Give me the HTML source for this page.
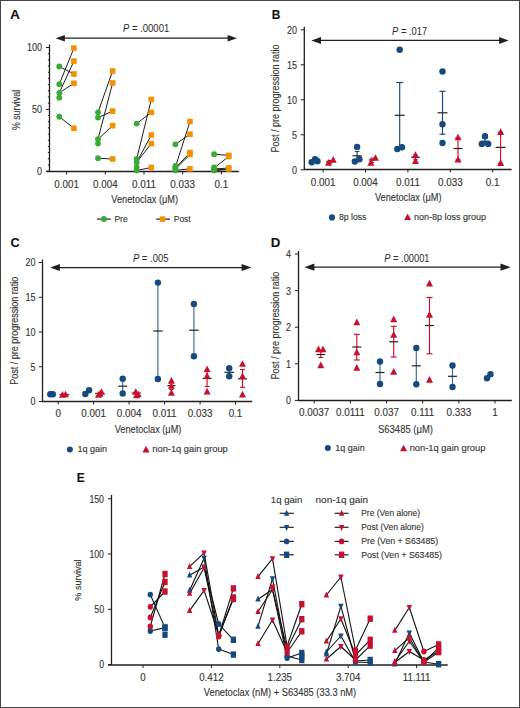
<!DOCTYPE html>
<html><head><meta charset="utf-8"><style>
html,body{margin:0;padding:0;background:#fff;}
svg{display:block;font-family:"Liberation Sans", sans-serif;}
text{stroke:#333;stroke-width:0.12px;}
</style></head><body>
<svg width="520" height="708" viewBox="0 0 520 708">
<rect x="0" y="0" width="520" height="708" fill="#fff"/>
<text x="10.10" y="18.70" font-size="13.2" text-anchor="start" fill="#111" font-weight="bold" textLength="10.0" lengthAdjust="spacingAndGlyphs">A</text>
<text x="123.00" y="32.10" font-size="11" fill="#2a2a2a" style="stroke:none" textLength="46.20" lengthAdjust="spacingAndGlyphs"><tspan font-style="italic">P</tspan> = .00001</text>
<line x1="63.02" y1="38.20" x2="229.48" y2="38.20" stroke="#231f20" stroke-width="1.3"/>
<polygon points="55.50,38.20 64.90,34.90 64.90,41.50" fill="#231f20"/>
<polygon points="237.00,38.20 227.60,34.90 227.60,41.50" fill="#231f20"/>
<line x1="49.50" y1="44.50" x2="49.50" y2="171.80" stroke="#231f20" stroke-width="1.3"/>
<line x1="45.90" y1="171.20" x2="49.50" y2="171.20" stroke="#231f20" stroke-width="1.0"/>
<text x="42.10" y="175.10" font-size="10.5" text-anchor="end" fill="#333333" textLength="5.02" lengthAdjust="spacingAndGlyphs">0</text>
<line x1="45.90" y1="109.35" x2="49.50" y2="109.35" stroke="#231f20" stroke-width="1.0"/>
<text x="42.10" y="113.25" font-size="10.5" text-anchor="end" fill="#333333" textLength="10.04" lengthAdjust="spacingAndGlyphs">50</text>
<line x1="45.90" y1="47.50" x2="49.50" y2="47.50" stroke="#231f20" stroke-width="1.0"/>
<text x="42.10" y="51.40" font-size="10.5" text-anchor="end" fill="#333333" textLength="15.06" lengthAdjust="spacingAndGlyphs">100</text>
<line x1="47.90" y1="165.01" x2="49.50" y2="165.01" stroke="#231f20" stroke-width="1.0"/>
<line x1="47.90" y1="158.83" x2="49.50" y2="158.83" stroke="#231f20" stroke-width="1.0"/>
<line x1="47.90" y1="152.64" x2="49.50" y2="152.64" stroke="#231f20" stroke-width="1.0"/>
<line x1="47.90" y1="146.46" x2="49.50" y2="146.46" stroke="#231f20" stroke-width="1.0"/>
<line x1="47.90" y1="140.27" x2="49.50" y2="140.27" stroke="#231f20" stroke-width="1.0"/>
<line x1="47.90" y1="134.09" x2="49.50" y2="134.09" stroke="#231f20" stroke-width="1.0"/>
<line x1="47.90" y1="127.90" x2="49.50" y2="127.90" stroke="#231f20" stroke-width="1.0"/>
<line x1="47.90" y1="121.72" x2="49.50" y2="121.72" stroke="#231f20" stroke-width="1.0"/>
<line x1="47.90" y1="115.53" x2="49.50" y2="115.53" stroke="#231f20" stroke-width="1.0"/>
<line x1="47.90" y1="103.16" x2="49.50" y2="103.16" stroke="#231f20" stroke-width="1.0"/>
<line x1="47.90" y1="96.98" x2="49.50" y2="96.98" stroke="#231f20" stroke-width="1.0"/>
<line x1="47.90" y1="90.79" x2="49.50" y2="90.79" stroke="#231f20" stroke-width="1.0"/>
<line x1="47.90" y1="84.61" x2="49.50" y2="84.61" stroke="#231f20" stroke-width="1.0"/>
<line x1="47.90" y1="78.42" x2="49.50" y2="78.42" stroke="#231f20" stroke-width="1.0"/>
<line x1="47.90" y1="72.24" x2="49.50" y2="72.24" stroke="#231f20" stroke-width="1.0"/>
<line x1="47.90" y1="66.05" x2="49.50" y2="66.05" stroke="#231f20" stroke-width="1.0"/>
<line x1="47.90" y1="59.87" x2="49.50" y2="59.87" stroke="#231f20" stroke-width="1.0"/>
<line x1="47.90" y1="53.68" x2="49.50" y2="53.68" stroke="#231f20" stroke-width="1.0"/>
<line x1="46.50" y1="171.50" x2="238.80" y2="171.50" stroke="#231f20" stroke-width="1.3"/>
<line x1="66.60" y1="171.50" x2="66.60" y2="174.50" stroke="#231f20" stroke-width="1.0"/>
<text x="66.60" y="187.60" font-size="10.5" text-anchor="middle" fill="#333333" textLength="24.7" lengthAdjust="spacingAndGlyphs">0.001</text>
<line x1="105.30" y1="171.50" x2="105.30" y2="174.50" stroke="#231f20" stroke-width="1.0"/>
<text x="105.30" y="187.60" font-size="10.5" text-anchor="middle" fill="#333333" textLength="24.7" lengthAdjust="spacingAndGlyphs">0.004</text>
<line x1="144.00" y1="171.50" x2="144.00" y2="174.50" stroke="#231f20" stroke-width="1.0"/>
<text x="144.00" y="187.60" font-size="10.5" text-anchor="middle" fill="#333333" textLength="23.96" lengthAdjust="spacingAndGlyphs">0.011</text>
<line x1="182.70" y1="171.50" x2="182.70" y2="174.50" stroke="#231f20" stroke-width="1.0"/>
<text x="182.70" y="187.60" font-size="10.5" text-anchor="middle" fill="#333333" textLength="24.7" lengthAdjust="spacingAndGlyphs">0.033</text>
<line x1="221.40" y1="171.50" x2="221.40" y2="174.50" stroke="#231f20" stroke-width="1.0"/>
<text x="221.40" y="187.60" font-size="10.5" text-anchor="middle" fill="#333333" textLength="13.72" lengthAdjust="spacingAndGlyphs">0.1</text>
<text x="111.30" y="203.00" font-size="11" text-anchor="start" fill="#333333" textLength="66.8" lengthAdjust="spacingAndGlyphs">Venetoclax (μM)</text>
<text x="20.40" y="110.00" font-size="11" text-anchor="middle" fill="#333333" textLength="40.2" lengthAdjust="spacingAndGlyphs" transform="rotate(-90 20.40 110.00)">% survival</text>
<line x1="59.30" y1="66.50" x2="73.90" y2="74.00" stroke="#231f20" stroke-width="1.0"/>
<line x1="59.30" y1="84.20" x2="73.90" y2="48.10" stroke="#231f20" stroke-width="1.0"/>
<line x1="59.30" y1="92.80" x2="73.90" y2="61.10" stroke="#231f20" stroke-width="1.0"/>
<line x1="59.30" y1="92.80" x2="73.90" y2="83.30" stroke="#231f20" stroke-width="1.0"/>
<line x1="59.30" y1="116.75" x2="73.90" y2="128.25" stroke="#231f20" stroke-width="1.0"/>
<circle cx="59.30" cy="66.50" r="2.9" fill="#3aa935"/>
<circle cx="59.30" cy="84.20" r="2.9" fill="#3aa935"/>
<circle cx="59.30" cy="92.80" r="2.9" fill="#3aa935"/>
<circle cx="59.30" cy="97.70" r="2.9" fill="#3aa935"/>
<circle cx="59.30" cy="116.75" r="2.9" fill="#3aa935"/>
<rect x="71.10" y="45.30" width="5.6" height="5.6" fill="#f39200"/>
<rect x="71.10" y="58.30" width="5.6" height="5.6" fill="#f39200"/>
<rect x="71.10" y="71.20" width="5.6" height="5.6" fill="#f39200"/>
<rect x="71.10" y="80.50" width="5.6" height="5.6" fill="#f39200"/>
<rect x="71.10" y="125.45" width="5.6" height="5.6" fill="#f39200"/>
<line x1="98.00" y1="112.30" x2="112.60" y2="71.00" stroke="#231f20" stroke-width="1.0"/>
<line x1="98.00" y1="117.60" x2="112.60" y2="111.10" stroke="#231f20" stroke-width="1.0"/>
<line x1="98.00" y1="139.20" x2="112.60" y2="83.00" stroke="#231f20" stroke-width="1.0"/>
<line x1="98.00" y1="139.20" x2="112.60" y2="125.70" stroke="#231f20" stroke-width="1.0"/>
<line x1="98.00" y1="158.20" x2="112.60" y2="159.00" stroke="#231f20" stroke-width="1.0"/>
<circle cx="98.00" cy="112.30" r="2.9" fill="#3aa935"/>
<circle cx="98.00" cy="117.60" r="2.9" fill="#3aa935"/>
<circle cx="98.00" cy="139.20" r="2.9" fill="#3aa935"/>
<circle cx="98.00" cy="143.60" r="2.9" fill="#3aa935"/>
<circle cx="98.00" cy="158.20" r="2.9" fill="#3aa935"/>
<rect x="109.80" y="68.20" width="5.6" height="5.6" fill="#f39200"/>
<rect x="109.80" y="80.20" width="5.6" height="5.6" fill="#f39200"/>
<rect x="109.80" y="108.30" width="5.6" height="5.6" fill="#f39200"/>
<rect x="109.80" y="122.90" width="5.6" height="5.6" fill="#f39200"/>
<rect x="109.80" y="156.20" width="5.6" height="5.6" fill="#f39200"/>
<line x1="136.70" y1="123.60" x2="151.30" y2="112.40" stroke="#231f20" stroke-width="1.0"/>
<line x1="136.70" y1="159.00" x2="151.30" y2="99.40" stroke="#231f20" stroke-width="1.0"/>
<line x1="136.70" y1="162.30" x2="151.30" y2="135.00" stroke="#231f20" stroke-width="1.0"/>
<line x1="136.70" y1="162.30" x2="151.30" y2="143.60" stroke="#231f20" stroke-width="1.0"/>
<line x1="136.70" y1="170.40" x2="151.30" y2="167.50" stroke="#231f20" stroke-width="1.0"/>
<circle cx="136.70" cy="123.60" r="2.9" fill="#3aa935"/>
<circle cx="136.70" cy="159.00" r="2.9" fill="#3aa935"/>
<circle cx="136.70" cy="162.30" r="2.9" fill="#3aa935"/>
<circle cx="136.70" cy="167.10" r="2.9" fill="#3aa935"/>
<circle cx="136.70" cy="170.40" r="2.9" fill="#3aa935"/>
<rect x="148.50" y="96.60" width="5.6" height="5.6" fill="#f39200"/>
<rect x="148.50" y="109.60" width="5.6" height="5.6" fill="#f39200"/>
<rect x="148.50" y="132.20" width="5.6" height="5.6" fill="#f39200"/>
<rect x="148.50" y="140.80" width="5.6" height="5.6" fill="#f39200"/>
<rect x="148.50" y="164.70" width="5.6" height="5.6" fill="#f39200"/>
<line x1="175.40" y1="144.30" x2="190.00" y2="134.20" stroke="#231f20" stroke-width="1.0"/>
<line x1="175.40" y1="167.00" x2="190.00" y2="121.50" stroke="#231f20" stroke-width="1.0"/>
<line x1="175.40" y1="168.00" x2="190.00" y2="152.60" stroke="#231f20" stroke-width="1.0"/>
<line x1="175.40" y1="169.00" x2="190.00" y2="154.50" stroke="#231f20" stroke-width="1.0"/>
<line x1="175.40" y1="170.40" x2="190.00" y2="168.80" stroke="#231f20" stroke-width="1.0"/>
<circle cx="175.40" cy="144.30" r="2.9" fill="#3aa935"/>
<circle cx="175.40" cy="166.00" r="2.9" fill="#3aa935"/>
<circle cx="175.40" cy="167.50" r="2.9" fill="#3aa935"/>
<circle cx="175.40" cy="169.00" r="2.9" fill="#3aa935"/>
<circle cx="175.40" cy="170.40" r="2.9" fill="#3aa935"/>
<rect x="187.20" y="118.70" width="5.6" height="5.6" fill="#f39200"/>
<rect x="187.20" y="131.40" width="5.6" height="5.6" fill="#f39200"/>
<rect x="187.20" y="149.80" width="5.6" height="5.6" fill="#f39200"/>
<rect x="187.20" y="151.70" width="5.6" height="5.6" fill="#f39200"/>
<rect x="187.20" y="166.00" width="5.6" height="5.6" fill="#f39200"/>
<line x1="214.10" y1="154.20" x2="228.70" y2="155.40" stroke="#231f20" stroke-width="1.0"/>
<line x1="214.10" y1="168.00" x2="228.70" y2="156.50" stroke="#231f20" stroke-width="1.0"/>
<line x1="214.10" y1="169.00" x2="228.70" y2="168.00" stroke="#231f20" stroke-width="1.0"/>
<line x1="214.10" y1="170.00" x2="228.70" y2="169.00" stroke="#231f20" stroke-width="1.0"/>
<line x1="214.10" y1="170.40" x2="228.70" y2="169.50" stroke="#231f20" stroke-width="1.0"/>
<circle cx="214.10" cy="154.20" r="2.9" fill="#3aa935"/>
<circle cx="214.10" cy="167.40" r="2.9" fill="#3aa935"/>
<circle cx="214.10" cy="168.50" r="2.9" fill="#3aa935"/>
<circle cx="214.10" cy="169.50" r="2.9" fill="#3aa935"/>
<circle cx="214.10" cy="170.40" r="2.9" fill="#3aa935"/>
<rect x="225.90" y="152.60" width="5.6" height="5.6" fill="#f39200"/>
<rect x="225.90" y="153.70" width="5.6" height="5.6" fill="#f39200"/>
<rect x="225.90" y="165.20" width="5.6" height="5.6" fill="#f39200"/>
<rect x="225.90" y="166.20" width="5.6" height="5.6" fill="#f39200"/>
<line x1="97.00" y1="219.10" x2="110.80" y2="219.10" stroke="#222" stroke-width="1.2"/>
<circle cx="103.90" cy="219.10" r="3.0" fill="#3aa935"/>
<text x="114.40" y="222.10" font-size="9" text-anchor="start" fill="#333333" textLength="13.3" lengthAdjust="spacingAndGlyphs">Pre</text>
<line x1="156.20" y1="219.10" x2="170.00" y2="219.10" stroke="#222" stroke-width="1.2"/>
<rect x="159.70" y="216.30" width="5.6" height="5.6" fill="#f39200"/>
<text x="173.80" y="222.10" font-size="9" text-anchor="start" fill="#333333" textLength="16.8" lengthAdjust="spacingAndGlyphs">Post</text>
<text x="271.70" y="18.70" font-size="13.2" text-anchor="start" fill="#111" font-weight="bold" textLength="8.6" lengthAdjust="spacingAndGlyphs">B</text>
<text x="392.10" y="34.80" font-size="11" fill="#2a2a2a" style="stroke:none" textLength="35.00" lengthAdjust="spacingAndGlyphs"><tspan font-style="italic">P</tspan> = .017</text>
<line x1="319.08" y1="40.40" x2="501.02" y2="40.40" stroke="#231f20" stroke-width="1.3"/>
<polygon points="311.40,40.40 321.00,36.90 321.00,43.90" fill="#231f20"/>
<polygon points="508.70,40.40 499.10,36.90 499.10,43.90" fill="#231f20"/>
<line x1="304.30" y1="26.80" x2="304.30" y2="170.10" stroke="#231f20" stroke-width="1.3"/>
<line x1="300.70" y1="169.80" x2="304.30" y2="169.80" stroke="#231f20" stroke-width="1.0"/>
<text x="297.00" y="173.70" font-size="10.5" text-anchor="end" fill="#333333" textLength="5.02" lengthAdjust="spacingAndGlyphs">0</text>
<line x1="300.70" y1="134.80" x2="304.30" y2="134.80" stroke="#231f20" stroke-width="1.0"/>
<text x="297.00" y="138.70" font-size="10.5" text-anchor="end" fill="#333333" textLength="5.02" lengthAdjust="spacingAndGlyphs">5</text>
<line x1="300.70" y1="99.80" x2="304.30" y2="99.80" stroke="#231f20" stroke-width="1.0"/>
<text x="297.00" y="103.70" font-size="10.5" text-anchor="end" fill="#333333" textLength="10.04" lengthAdjust="spacingAndGlyphs">10</text>
<line x1="300.70" y1="64.80" x2="304.30" y2="64.80" stroke="#231f20" stroke-width="1.0"/>
<text x="297.00" y="68.70" font-size="10.5" text-anchor="end" fill="#333333" textLength="10.04" lengthAdjust="spacingAndGlyphs">15</text>
<line x1="300.70" y1="29.80" x2="304.30" y2="29.80" stroke="#231f20" stroke-width="1.0"/>
<text x="297.00" y="33.70" font-size="10.5" text-anchor="end" fill="#333333" textLength="10.04" lengthAdjust="spacingAndGlyphs">20</text>
<line x1="304.00" y1="169.50" x2="511.60" y2="169.50" stroke="#231f20" stroke-width="1.3"/>
<line x1="323.10" y1="169.50" x2="323.10" y2="172.50" stroke="#231f20" stroke-width="1.0"/>
<text x="323.10" y="186.40" font-size="10.5" text-anchor="middle" fill="#333333" textLength="24.7" lengthAdjust="spacingAndGlyphs">0.001</text>
<line x1="365.50" y1="169.50" x2="365.50" y2="172.50" stroke="#231f20" stroke-width="1.0"/>
<text x="365.50" y="186.40" font-size="10.5" text-anchor="middle" fill="#333333" textLength="24.7" lengthAdjust="spacingAndGlyphs">0.004</text>
<line x1="407.90" y1="169.50" x2="407.90" y2="172.50" stroke="#231f20" stroke-width="1.0"/>
<text x="407.90" y="186.40" font-size="10.5" text-anchor="middle" fill="#333333" textLength="23.96" lengthAdjust="spacingAndGlyphs">0.011</text>
<line x1="450.30" y1="169.50" x2="450.30" y2="172.50" stroke="#231f20" stroke-width="1.0"/>
<text x="450.30" y="186.40" font-size="10.5" text-anchor="middle" fill="#333333" textLength="24.7" lengthAdjust="spacingAndGlyphs">0.033</text>
<line x1="492.70" y1="169.50" x2="492.70" y2="172.50" stroke="#231f20" stroke-width="1.0"/>
<text x="492.70" y="186.40" font-size="10.5" text-anchor="middle" fill="#333333" textLength="13.72" lengthAdjust="spacingAndGlyphs">0.1</text>
<text x="374.90" y="200.70" font-size="11" text-anchor="start" fill="#333333" textLength="66.7" lengthAdjust="spacingAndGlyphs">Venetoclax (μM)</text>
<text x="279.40" y="98.50" font-size="10.5" text-anchor="middle" fill="#333333" textLength="107.8" lengthAdjust="spacingAndGlyphs" transform="rotate(-90 279.40 98.50)">Post / pre progression ratio</text>
<line x1="315.50" y1="160.00" x2="315.50" y2="162.00" stroke="#1f4470" stroke-width="1.15"/>
<line x1="313.00" y1="160.00" x2="318.00" y2="160.00" stroke="#1f4470" stroke-width="1.15"/>
<line x1="313.00" y1="162.00" x2="318.00" y2="162.00" stroke="#1f4470" stroke-width="1.15"/>
<line x1="311.00" y1="161.00" x2="320.00" y2="161.00" stroke="#222" stroke-width="1.2"/>
<circle cx="311.70" cy="162.30" r="3.2" fill="#15497f"/>
<circle cx="315.10" cy="159.20" r="3.2" fill="#15497f"/>
<circle cx="317.50" cy="161.20" r="3.2" fill="#15497f"/>
<line x1="329.50" y1="160.50" x2="329.50" y2="163.50" stroke="#c8102e" stroke-width="1.15"/>
<line x1="327.50" y1="160.50" x2="331.50" y2="160.50" stroke="#c8102e" stroke-width="1.15"/>
<line x1="327.50" y1="163.50" x2="331.50" y2="163.50" stroke="#c8102e" stroke-width="1.15"/>
<line x1="326.00" y1="162.00" x2="333.00" y2="162.00" stroke="#222" stroke-width="1.2"/>
<polygon points="328.60,159.04 325.10,165.64 332.10,165.64" fill="#c8102e"/>
<polygon points="333.20,156.04 329.70,162.64 336.70,162.64" fill="#c8102e"/>
<line x1="357.10" y1="151.50" x2="357.10" y2="160.00" stroke="#1f4470" stroke-width="1.15"/>
<line x1="354.80" y1="151.50" x2="359.40" y2="151.50" stroke="#1f4470" stroke-width="1.15"/>
<line x1="354.80" y1="160.00" x2="359.40" y2="160.00" stroke="#1f4470" stroke-width="1.15"/>
<line x1="352.50" y1="155.80" x2="361.70" y2="155.80" stroke="#222" stroke-width="1.2"/>
<circle cx="357.10" cy="146.90" r="3.2" fill="#15497f"/>
<circle cx="354.80" cy="161.50" r="3.2" fill="#15497f"/>
<circle cx="359.40" cy="159.20" r="3.2" fill="#15497f"/>
<line x1="372.00" y1="158.20" x2="372.00" y2="162.50" stroke="#c8102e" stroke-width="1.15"/>
<line x1="370.00" y1="158.20" x2="374.00" y2="158.20" stroke="#c8102e" stroke-width="1.15"/>
<line x1="370.00" y1="162.50" x2="374.00" y2="162.50" stroke="#c8102e" stroke-width="1.15"/>
<line x1="368.75" y1="160.00" x2="375.25" y2="160.00" stroke="#222" stroke-width="1.2"/>
<polygon points="370.90,159.04 367.40,165.64 374.40,165.64" fill="#c8102e"/>
<polygon points="375.50,154.24 372.00,160.84 379.00,160.84" fill="#c8102e"/>
<line x1="399.70" y1="82.50" x2="399.70" y2="147.50" stroke="#1f4470" stroke-width="1.15"/>
<line x1="396.20" y1="82.50" x2="403.20" y2="82.50" stroke="#1f4470" stroke-width="1.15"/>
<line x1="396.20" y1="147.50" x2="403.20" y2="147.50" stroke="#1f4470" stroke-width="1.15"/>
<line x1="394.70" y1="115.30" x2="404.70" y2="115.30" stroke="#222" stroke-width="1.2"/>
<circle cx="397.30" cy="149.00" r="3.2" fill="#15497f"/>
<circle cx="402.00" cy="147.30" r="3.2" fill="#15497f"/>
<circle cx="399.70" cy="49.80" r="3.2" fill="#15497f"/>
<line x1="415.50" y1="155.50" x2="415.50" y2="159.50" stroke="#c8102e" stroke-width="1.15"/>
<line x1="413.50" y1="155.50" x2="417.50" y2="155.50" stroke="#c8102e" stroke-width="1.15"/>
<line x1="413.50" y1="159.50" x2="417.50" y2="159.50" stroke="#c8102e" stroke-width="1.15"/>
<line x1="411.20" y1="157.30" x2="419.80" y2="157.30" stroke="#222" stroke-width="1.2"/>
<polygon points="415.50,151.24 412.00,157.84 419.00,157.84" fill="#c8102e"/>
<polygon points="415.50,157.44 412.00,164.04 419.00,164.04" fill="#c8102e"/>
<line x1="442.50" y1="91.30" x2="442.50" y2="134.20" stroke="#1f4470" stroke-width="1.15"/>
<line x1="439.50" y1="91.30" x2="445.50" y2="91.30" stroke="#1f4470" stroke-width="1.15"/>
<line x1="439.50" y1="134.20" x2="445.50" y2="134.20" stroke="#1f4470" stroke-width="1.15"/>
<line x1="437.50" y1="112.80" x2="447.50" y2="112.80" stroke="#222" stroke-width="1.2"/>
<circle cx="442.50" cy="71.50" r="3.2" fill="#15497f"/>
<circle cx="442.50" cy="124.20" r="3.2" fill="#15497f"/>
<circle cx="442.50" cy="143.00" r="3.2" fill="#15497f"/>
<line x1="458.00" y1="137.70" x2="458.00" y2="159.80" stroke="#c8102e" stroke-width="1.15"/>
<line x1="455.50" y1="137.70" x2="460.50" y2="137.70" stroke="#c8102e" stroke-width="1.15"/>
<line x1="455.50" y1="159.80" x2="460.50" y2="159.80" stroke="#c8102e" stroke-width="1.15"/>
<line x1="453.50" y1="148.50" x2="462.50" y2="148.50" stroke="#222" stroke-width="1.2"/>
<polygon points="458.00,133.74 454.50,140.34 461.50,140.34" fill="#c8102e"/>
<polygon points="458.00,155.84 454.50,162.44 461.50,162.44" fill="#c8102e"/>
<line x1="485.00" y1="138.50" x2="485.00" y2="144.00" stroke="#1f4470" stroke-width="1.15"/>
<line x1="482.50" y1="138.50" x2="487.50" y2="138.50" stroke="#1f4470" stroke-width="1.15"/>
<line x1="482.50" y1="144.00" x2="487.50" y2="144.00" stroke="#1f4470" stroke-width="1.15"/>
<line x1="480.50" y1="141.30" x2="489.50" y2="141.30" stroke="#222" stroke-width="1.2"/>
<circle cx="485.00" cy="136.30" r="3.2" fill="#15497f"/>
<circle cx="481.80" cy="143.90" r="3.2" fill="#15497f"/>
<circle cx="488.20" cy="143.90" r="3.2" fill="#15497f"/>
<line x1="500.60" y1="132.30" x2="500.60" y2="163.30" stroke="#c8102e" stroke-width="1.15"/>
<line x1="498.10" y1="132.30" x2="503.10" y2="132.30" stroke="#c8102e" stroke-width="1.15"/>
<line x1="498.10" y1="163.30" x2="503.10" y2="163.30" stroke="#c8102e" stroke-width="1.15"/>
<line x1="495.60" y1="147.40" x2="505.60" y2="147.40" stroke="#222" stroke-width="1.2"/>
<polygon points="500.60,128.34 497.10,134.94 504.10,134.94" fill="#c8102e"/>
<polygon points="500.60,159.34 497.10,165.94 504.10,165.94" fill="#c8102e"/>
<circle cx="332.00" cy="217.40" r="3.1" fill="#15497f"/>
<text x="339.00" y="220.40" font-size="9" text-anchor="start" fill="#333333" textLength="27.4" lengthAdjust="spacingAndGlyphs">8p loss</text>
<polygon points="407.60,213.44 404.10,220.04 411.10,220.04" fill="#c8102e"/>
<text x="414.10" y="220.40" font-size="9" text-anchor="start" fill="#333333" textLength="71.9" lengthAdjust="spacingAndGlyphs">non-8p loss group</text>
<text x="10.50" y="247.30" font-size="13.4" text-anchor="start" fill="#111" font-weight="bold" textLength="9.2" lengthAdjust="spacingAndGlyphs">C</text>
<text x="132.90" y="262.00" font-size="11" fill="#2a2a2a" style="stroke:none" textLength="35.60" lengthAdjust="spacingAndGlyphs"><tspan font-style="italic">P</tspan> = .005</text>
<line x1="57.94" y1="267.60" x2="243.56" y2="267.60" stroke="#231f20" stroke-width="1.3"/>
<polygon points="50.10,267.60 59.90,264.10 59.90,271.10" fill="#231f20"/>
<polygon points="251.40,267.60 241.60,264.10 241.60,271.10" fill="#231f20"/>
<line x1="42.50" y1="259.50" x2="42.50" y2="402.10" stroke="#231f20" stroke-width="1.3"/>
<line x1="38.90" y1="401.50" x2="42.50" y2="401.50" stroke="#231f20" stroke-width="1.0"/>
<text x="35.50" y="405.40" font-size="10.5" text-anchor="end" fill="#333333" textLength="5.02" lengthAdjust="spacingAndGlyphs">0</text>
<line x1="38.90" y1="366.75" x2="42.50" y2="366.75" stroke="#231f20" stroke-width="1.0"/>
<text x="35.50" y="370.65" font-size="10.5" text-anchor="end" fill="#333333" textLength="5.02" lengthAdjust="spacingAndGlyphs">5</text>
<line x1="38.90" y1="332.00" x2="42.50" y2="332.00" stroke="#231f20" stroke-width="1.0"/>
<text x="35.50" y="335.90" font-size="10.5" text-anchor="end" fill="#333333" textLength="10.04" lengthAdjust="spacingAndGlyphs">10</text>
<line x1="38.90" y1="297.25" x2="42.50" y2="297.25" stroke="#231f20" stroke-width="1.0"/>
<text x="35.50" y="301.15" font-size="10.5" text-anchor="end" fill="#333333" textLength="10.04" lengthAdjust="spacingAndGlyphs">15</text>
<line x1="38.90" y1="262.50" x2="42.50" y2="262.50" stroke="#231f20" stroke-width="1.0"/>
<text x="35.50" y="266.40" font-size="10.5" text-anchor="end" fill="#333333" textLength="10.04" lengthAdjust="spacingAndGlyphs">20</text>
<line x1="42.30" y1="401.50" x2="252.30" y2="401.50" stroke="#231f20" stroke-width="1.3"/>
<line x1="58.20" y1="401.50" x2="58.20" y2="404.50" stroke="#231f20" stroke-width="1.0"/>
<text x="58.20" y="417.40" font-size="10.5" text-anchor="middle" fill="#333333" textLength="5.49" lengthAdjust="spacingAndGlyphs">0</text>
<line x1="93.60" y1="401.50" x2="93.60" y2="404.50" stroke="#231f20" stroke-width="1.0"/>
<text x="93.60" y="417.40" font-size="10.5" text-anchor="middle" fill="#333333" textLength="24.7" lengthAdjust="spacingAndGlyphs">0.001</text>
<line x1="129.10" y1="401.50" x2="129.10" y2="404.50" stroke="#231f20" stroke-width="1.0"/>
<text x="129.10" y="417.40" font-size="10.5" text-anchor="middle" fill="#333333" textLength="24.7" lengthAdjust="spacingAndGlyphs">0.004</text>
<line x1="164.60" y1="401.50" x2="164.60" y2="404.50" stroke="#231f20" stroke-width="1.0"/>
<text x="164.60" y="417.40" font-size="10.5" text-anchor="middle" fill="#333333" textLength="23.96" lengthAdjust="spacingAndGlyphs">0.011</text>
<line x1="200.10" y1="401.50" x2="200.10" y2="404.50" stroke="#231f20" stroke-width="1.0"/>
<text x="200.10" y="417.40" font-size="10.5" text-anchor="middle" fill="#333333" textLength="24.7" lengthAdjust="spacingAndGlyphs">0.033</text>
<line x1="235.50" y1="401.50" x2="235.50" y2="404.50" stroke="#231f20" stroke-width="1.0"/>
<text x="235.50" y="417.40" font-size="10.5" text-anchor="middle" fill="#333333" textLength="13.72" lengthAdjust="spacingAndGlyphs">0.1</text>
<text x="114.70" y="433.30" font-size="11" text-anchor="start" fill="#333333" textLength="66.7" lengthAdjust="spacingAndGlyphs">Venetoclax (μM)</text>
<text x="17.70" y="330.80" font-size="10.5" text-anchor="middle" fill="#333333" textLength="108" lengthAdjust="spacingAndGlyphs" transform="rotate(-90 17.70 330.80)">Post / pre progression ratio</text>
<circle cx="50.30" cy="394.20" r="3.2" fill="#15497f"/>
<circle cx="52.80" cy="394.20" r="3.2" fill="#15497f"/>
<line x1="59.50" y1="394.60" x2="69.50" y2="394.60" stroke="#231f20" stroke-width="1.0"/>
<polygon points="62.50,391.04 59.00,397.64 66.00,397.64" fill="#c8102e"/>
<polygon points="65.50,390.64 62.00,397.24 69.00,397.24" fill="#c8102e"/>
<circle cx="85.30" cy="394.00" r="3.2" fill="#15497f"/>
<circle cx="89.10" cy="390.20" r="3.2" fill="#15497f"/>
<line x1="95.00" y1="393.30" x2="104.50" y2="393.30" stroke="#231f20" stroke-width="1.0"/>
<polygon points="98.50,391.04 95.00,397.64 102.00,397.64" fill="#c8102e"/>
<polygon points="101.50,388.24 98.00,394.84 105.00,394.84" fill="#c8102e"/>
<polygon points="100.00,390.24 96.50,396.84 103.50,396.84" fill="#c8102e"/>
<line x1="122.70" y1="381.50" x2="122.70" y2="391.00" stroke="#3a6797" stroke-width="1.15"/>
<line x1="118.20" y1="386.20" x2="127.20" y2="386.20" stroke="#222" stroke-width="1.2"/>
<circle cx="122.70" cy="378.70" r="3.2" fill="#15497f"/>
<circle cx="122.70" cy="393.50" r="3.2" fill="#15497f"/>
<line x1="131.50" y1="393.00" x2="141.00" y2="393.00" stroke="#231f20" stroke-width="1.0"/>
<polygon points="135.80,388.24 132.30,394.84 139.30,394.84" fill="#c8102e"/>
<polygon points="138.20,390.64 134.70,397.24 141.70,397.24" fill="#c8102e"/>
<polygon points="136.50,391.54 133.00,398.14 140.00,398.14" fill="#c8102e"/>
<line x1="157.90" y1="282.80" x2="157.90" y2="379.00" stroke="#3a6797" stroke-width="1.15"/>
<line x1="153.15" y1="331.00" x2="162.65" y2="331.00" stroke="#222" stroke-width="1.2"/>
<circle cx="157.90" cy="282.60" r="3.2" fill="#15497f"/>
<circle cx="157.90" cy="379.00" r="3.2" fill="#15497f"/>
<line x1="171.40" y1="382.00" x2="171.40" y2="389.50" stroke="#c8102e" stroke-width="1.15"/>
<line x1="169.40" y1="382.00" x2="173.40" y2="382.00" stroke="#c8102e" stroke-width="1.15"/>
<line x1="169.40" y1="389.50" x2="173.40" y2="389.50" stroke="#c8102e" stroke-width="1.15"/>
<line x1="167.40" y1="385.60" x2="175.40" y2="385.60" stroke="#222" stroke-width="1.2"/>
<polygon points="171.40,377.04 167.90,383.64 174.90,383.64" fill="#c8102e"/>
<polygon points="171.40,382.24 167.90,388.84 174.90,388.84" fill="#c8102e"/>
<polygon points="171.40,389.04 167.90,395.64 174.90,395.64" fill="#c8102e"/>
<line x1="193.90" y1="304.00" x2="193.90" y2="356.30" stroke="#3a6797" stroke-width="1.15"/>
<line x1="189.15" y1="330.20" x2="198.65" y2="330.20" stroke="#222" stroke-width="1.2"/>
<circle cx="193.90" cy="304.00" r="3.2" fill="#15497f"/>
<circle cx="193.90" cy="356.30" r="3.2" fill="#15497f"/>
<line x1="207.10" y1="371.50" x2="207.10" y2="386.50" stroke="#c8102e" stroke-width="1.15"/>
<line x1="204.60" y1="371.50" x2="209.60" y2="371.50" stroke="#c8102e" stroke-width="1.15"/>
<line x1="204.60" y1="386.50" x2="209.60" y2="386.50" stroke="#c8102e" stroke-width="1.15"/>
<line x1="202.60" y1="378.50" x2="211.60" y2="378.50" stroke="#222" stroke-width="1.2"/>
<polygon points="207.10,365.44 203.60,372.04 210.60,372.04" fill="#c8102e"/>
<polygon points="207.10,372.24 203.60,378.84 210.60,378.84" fill="#c8102e"/>
<polygon points="207.10,387.84 203.60,394.44 210.60,394.44" fill="#c8102e"/>
<line x1="229.20" y1="369.00" x2="229.20" y2="376.00" stroke="#3a6797" stroke-width="1.15"/>
<line x1="224.45" y1="372.30" x2="233.95" y2="372.30" stroke="#222" stroke-width="1.2"/>
<circle cx="229.20" cy="368.30" r="3.2" fill="#15497f"/>
<circle cx="229.20" cy="376.30" r="3.2" fill="#15497f"/>
<line x1="242.50" y1="369.50" x2="242.50" y2="387.30" stroke="#c8102e" stroke-width="1.15"/>
<line x1="240.00" y1="369.50" x2="245.00" y2="369.50" stroke="#c8102e" stroke-width="1.15"/>
<line x1="240.00" y1="387.30" x2="245.00" y2="387.30" stroke="#c8102e" stroke-width="1.15"/>
<line x1="238.00" y1="378.80" x2="247.00" y2="378.80" stroke="#222" stroke-width="1.2"/>
<polygon points="242.50,360.24 239.00,366.84 246.00,366.84" fill="#c8102e"/>
<polygon points="242.50,372.44 239.00,379.04 246.00,379.04" fill="#c8102e"/>
<polygon points="242.50,390.84 239.00,397.44 246.00,397.44" fill="#c8102e"/>
<circle cx="69.90" cy="449.60" r="3.0" fill="#15497f"/>
<text x="77.40" y="452.20" font-size="9" text-anchor="start" fill="#333333" textLength="29.5" lengthAdjust="spacingAndGlyphs">1q gain</text>
<polygon points="146.00,445.84 142.50,452.44 149.50,452.44" fill="#c8102e"/>
<text x="152.30" y="452.20" font-size="9" text-anchor="start" fill="#333333" textLength="75.5" lengthAdjust="spacingAndGlyphs">non-1q gain group</text>
<text x="270.80" y="247.00" font-size="13.2" text-anchor="start" fill="#111" font-weight="bold" textLength="9.6" lengthAdjust="spacingAndGlyphs">D</text>
<text x="384.30" y="261.50" font-size="11" fill="#2a2a2a" style="stroke:none" textLength="45.20" lengthAdjust="spacingAndGlyphs"><tspan font-style="italic">P</tspan> = .00001</text>
<line x1="312.40" y1="267.20" x2="502.50" y2="267.20" stroke="#231f20" stroke-width="1.3"/>
<polygon points="304.40,267.20 314.40,263.60 314.40,270.80" fill="#231f20"/>
<polygon points="510.50,267.20 500.50,263.60 500.50,270.80" fill="#231f20"/>
<line x1="298.50" y1="251.00" x2="298.50" y2="401.00" stroke="#231f20" stroke-width="1.3"/>
<line x1="294.90" y1="400.40" x2="298.50" y2="400.40" stroke="#231f20" stroke-width="1.0"/>
<text x="290.90" y="404.30" font-size="10.5" text-anchor="end" fill="#333333" textLength="5.02" lengthAdjust="spacingAndGlyphs">0</text>
<line x1="294.90" y1="363.80" x2="298.50" y2="363.80" stroke="#231f20" stroke-width="1.0"/>
<text x="290.90" y="367.70" font-size="10.5" text-anchor="end" fill="#333333" textLength="5.02" lengthAdjust="spacingAndGlyphs">1</text>
<line x1="294.90" y1="327.20" x2="298.50" y2="327.20" stroke="#231f20" stroke-width="1.0"/>
<text x="290.90" y="331.10" font-size="10.5" text-anchor="end" fill="#333333" textLength="5.02" lengthAdjust="spacingAndGlyphs">2</text>
<line x1="294.90" y1="290.60" x2="298.50" y2="290.60" stroke="#231f20" stroke-width="1.0"/>
<text x="290.90" y="294.50" font-size="10.5" text-anchor="end" fill="#333333" textLength="5.02" lengthAdjust="spacingAndGlyphs">3</text>
<line x1="294.90" y1="254.00" x2="298.50" y2="254.00" stroke="#231f20" stroke-width="1.0"/>
<text x="290.90" y="257.90" font-size="10.5" text-anchor="end" fill="#333333" textLength="5.02" lengthAdjust="spacingAndGlyphs">4</text>
<line x1="298.20" y1="400.50" x2="511.80" y2="400.50" stroke="#231f20" stroke-width="1.3"/>
<line x1="314.20" y1="400.50" x2="314.20" y2="403.50" stroke="#231f20" stroke-width="1.0"/>
<text x="314.20" y="416.30" font-size="10.5" text-anchor="middle" fill="#333333" textLength="30.19" lengthAdjust="spacingAndGlyphs">0.0037</text>
<line x1="350.40" y1="400.50" x2="350.40" y2="403.50" stroke="#231f20" stroke-width="1.0"/>
<text x="350.40" y="416.30" font-size="10.5" text-anchor="middle" fill="#333333" textLength="28.72" lengthAdjust="spacingAndGlyphs">0.0111</text>
<line x1="386.60" y1="400.50" x2="386.60" y2="403.50" stroke="#231f20" stroke-width="1.0"/>
<text x="386.60" y="416.30" font-size="10.5" text-anchor="middle" fill="#333333" textLength="24.7" lengthAdjust="spacingAndGlyphs">0.037</text>
<line x1="422.70" y1="400.50" x2="422.70" y2="403.50" stroke="#231f20" stroke-width="1.0"/>
<text x="422.70" y="416.30" font-size="10.5" text-anchor="middle" fill="#333333" textLength="23.23" lengthAdjust="spacingAndGlyphs">0.111</text>
<line x1="458.90" y1="400.50" x2="458.90" y2="403.50" stroke="#231f20" stroke-width="1.0"/>
<text x="458.90" y="416.30" font-size="10.5" text-anchor="middle" fill="#333333" textLength="24.7" lengthAdjust="spacingAndGlyphs">0.333</text>
<line x1="495.00" y1="400.50" x2="495.00" y2="403.50" stroke="#231f20" stroke-width="1.0"/>
<text x="495.00" y="416.30" font-size="10.5" text-anchor="middle" fill="#333333" textLength="5.49" lengthAdjust="spacingAndGlyphs">1</text>
<text x="378.00" y="432.90" font-size="11" text-anchor="start" fill="#333333" textLength="55" lengthAdjust="spacingAndGlyphs">S63485 (μM)</text>
<text x="279.50" y="325.60" font-size="10.5" text-anchor="middle" fill="#333333" textLength="107.8" lengthAdjust="spacingAndGlyphs" transform="rotate(-90 279.50 325.60)">Post / pre progression ratio</text>
<line x1="320.80" y1="351.50" x2="320.80" y2="357.50" stroke="#c8102e" stroke-width="1.15"/>
<line x1="318.30" y1="351.50" x2="323.30" y2="351.50" stroke="#c8102e" stroke-width="1.15"/>
<line x1="318.30" y1="357.50" x2="323.30" y2="357.50" stroke="#c8102e" stroke-width="1.15"/>
<line x1="316.30" y1="354.50" x2="325.30" y2="354.50" stroke="#222" stroke-width="1.2"/>
<polygon points="318.50,345.54 315.00,352.14 322.00,352.14" fill="#c8102e"/>
<polygon points="323.00,345.54 319.50,352.14 326.50,352.14" fill="#c8102e"/>
<polygon points="320.80,361.54 317.30,368.14 324.30,368.14" fill="#c8102e"/>
<line x1="356.80" y1="334.30" x2="356.80" y2="360.00" stroke="#c8102e" stroke-width="1.15"/>
<line x1="353.80" y1="334.30" x2="359.80" y2="334.30" stroke="#c8102e" stroke-width="1.15"/>
<line x1="353.80" y1="360.00" x2="359.80" y2="360.00" stroke="#c8102e" stroke-width="1.15"/>
<line x1="352.30" y1="347.00" x2="361.30" y2="347.00" stroke="#222" stroke-width="1.2"/>
<polygon points="356.80,318.54 353.30,325.14 360.30,325.14" fill="#c8102e"/>
<polygon points="356.80,348.54 353.30,355.14 360.30,355.14" fill="#c8102e"/>
<polygon points="356.80,364.04 353.30,370.64 360.30,370.64" fill="#c8102e"/>
<line x1="380.00" y1="361.50" x2="380.00" y2="384.00" stroke="#3a6797" stroke-width="1.15"/>
<line x1="375.50" y1="372.50" x2="384.50" y2="372.50" stroke="#222" stroke-width="1.2"/>
<circle cx="380.00" cy="361.50" r="3.2" fill="#15497f"/>
<circle cx="380.00" cy="384.00" r="3.2" fill="#15497f"/>
<line x1="393.70" y1="326.30" x2="393.70" y2="357.00" stroke="#c8102e" stroke-width="1.15"/>
<line x1="390.70" y1="326.30" x2="396.70" y2="326.30" stroke="#c8102e" stroke-width="1.15"/>
<line x1="390.70" y1="357.00" x2="396.70" y2="357.00" stroke="#c8102e" stroke-width="1.15"/>
<line x1="389.20" y1="341.80" x2="398.20" y2="341.80" stroke="#222" stroke-width="1.2"/>
<polygon points="393.70,315.54 390.20,322.14 397.20,322.14" fill="#c8102e"/>
<polygon points="393.70,331.04 390.20,337.64 397.20,337.64" fill="#c8102e"/>
<polygon points="393.70,368.04 390.20,374.64 397.20,374.64" fill="#c8102e"/>
<line x1="416.30" y1="348.00" x2="416.30" y2="384.30" stroke="#3a6797" stroke-width="1.15"/>
<line x1="411.80" y1="365.80" x2="420.80" y2="365.80" stroke="#222" stroke-width="1.2"/>
<circle cx="416.30" cy="348.00" r="3.2" fill="#15497f"/>
<circle cx="416.30" cy="384.30" r="3.2" fill="#15497f"/>
<line x1="429.50" y1="297.50" x2="429.50" y2="353.80" stroke="#c8102e" stroke-width="1.15"/>
<line x1="426.50" y1="297.50" x2="432.50" y2="297.50" stroke="#c8102e" stroke-width="1.15"/>
<line x1="426.50" y1="353.80" x2="432.50" y2="353.80" stroke="#c8102e" stroke-width="1.15"/>
<line x1="425.00" y1="325.50" x2="434.00" y2="325.50" stroke="#222" stroke-width="1.2"/>
<polygon points="429.50,279.84 426.00,286.44 433.00,286.44" fill="#c8102e"/>
<polygon points="429.50,311.04 426.00,317.64 433.00,317.64" fill="#c8102e"/>
<polygon points="429.50,376.04 426.00,382.64 433.00,382.64" fill="#c8102e"/>
<line x1="452.50" y1="365.50" x2="452.50" y2="387.00" stroke="#3a6797" stroke-width="1.15"/>
<line x1="448.00" y1="376.30" x2="457.00" y2="376.30" stroke="#222" stroke-width="1.2"/>
<circle cx="452.50" cy="365.50" r="3.2" fill="#15497f"/>
<circle cx="452.50" cy="387.00" r="3.2" fill="#15497f"/>
<circle cx="487.00" cy="378.30" r="3.2" fill="#15497f"/>
<circle cx="490.50" cy="374.30" r="3.2" fill="#15497f"/>
<circle cx="327.90" cy="448.10" r="3.0" fill="#15497f"/>
<text x="335.30" y="450.60" font-size="9" text-anchor="start" fill="#333333" textLength="29.3" lengthAdjust="spacingAndGlyphs">1q gain</text>
<polygon points="403.60,444.64 400.10,451.24 407.10,451.24" fill="#c8102e"/>
<text x="409.70" y="450.60" font-size="9" text-anchor="start" fill="#333333" textLength="75.7" lengthAdjust="spacingAndGlyphs">non-1q gain group</text>
<text x="76.80" y="481.80" font-size="13.2" text-anchor="start" fill="#111" font-weight="bold" textLength="7.9" lengthAdjust="spacingAndGlyphs">E</text>
<line x1="111.50" y1="494.95" x2="111.50" y2="665.10" stroke="#231f20" stroke-width="1.3"/>
<line x1="107.90" y1="664.50" x2="111.50" y2="664.50" stroke="#231f20" stroke-width="1.0"/>
<text x="104.00" y="668.40" font-size="10" text-anchor="end" fill="#333333" textLength="4.87" lengthAdjust="spacingAndGlyphs">0</text>
<line x1="107.90" y1="609.25" x2="111.50" y2="609.25" stroke="#231f20" stroke-width="1.0"/>
<text x="104.00" y="613.15" font-size="10" text-anchor="end" fill="#333333" textLength="9.73" lengthAdjust="spacingAndGlyphs">50</text>
<line x1="107.90" y1="554.00" x2="111.50" y2="554.00" stroke="#231f20" stroke-width="1.0"/>
<text x="104.00" y="557.90" font-size="10" text-anchor="end" fill="#333333" textLength="14.6" lengthAdjust="spacingAndGlyphs">100</text>
<line x1="107.90" y1="498.75" x2="111.50" y2="498.75" stroke="#231f20" stroke-width="1.0"/>
<text x="104.00" y="502.65" font-size="10" text-anchor="end" fill="#333333" textLength="14.6" lengthAdjust="spacingAndGlyphs">150</text>
<line x1="108.00" y1="665.00" x2="447.70" y2="665.00" stroke="#231f20" stroke-width="1.3"/>
<line x1="143.00" y1="665.00" x2="143.00" y2="668.00" stroke="#231f20" stroke-width="1.0"/>
<text x="143.00" y="681.00" font-size="10.5" text-anchor="middle" fill="#333333" textLength="5.43" lengthAdjust="spacingAndGlyphs">0</text>
<line x1="211.40" y1="665.00" x2="211.40" y2="668.00" stroke="#231f20" stroke-width="1.0"/>
<text x="211.40" y="681.00" font-size="10.5" text-anchor="middle" fill="#333333" textLength="24.43" lengthAdjust="spacingAndGlyphs">0.412</text>
<line x1="279.80" y1="665.00" x2="279.80" y2="668.00" stroke="#231f20" stroke-width="1.0"/>
<text x="279.80" y="681.00" font-size="10.5" text-anchor="middle" fill="#333333" textLength="24.43" lengthAdjust="spacingAndGlyphs">1.235</text>
<line x1="348.20" y1="665.00" x2="348.20" y2="668.00" stroke="#231f20" stroke-width="1.0"/>
<text x="348.20" y="681.00" font-size="10.5" text-anchor="middle" fill="#333333" textLength="24.43" lengthAdjust="spacingAndGlyphs">3.704</text>
<line x1="416.60" y1="665.00" x2="416.60" y2="668.00" stroke="#231f20" stroke-width="1.0"/>
<text x="416.60" y="681.00" font-size="10.5" text-anchor="middle" fill="#333333" textLength="27.69" lengthAdjust="spacingAndGlyphs">11.111</text>
<text x="203.80" y="695.60" font-size="10.8" text-anchor="start" fill="#333333" textLength="152.4" lengthAdjust="spacingAndGlyphs">Venetoclax (nM) + S63485 (33.3 nM)</text>
<text x="81.00" y="580.00" font-size="9.5" text-anchor="middle" fill="#333333" textLength="41.3" lengthAdjust="spacingAndGlyphs" transform="rotate(-90 81.00 580.00)">% survival</text>
<line x1="150.30" y1="594.60" x2="165.00" y2="627.60" stroke="#111" stroke-width="1.1"/>
<line x1="150.30" y1="631.00" x2="165.00" y2="627.60" stroke="#111" stroke-width="1.1"/>
<line x1="150.30" y1="606.80" x2="165.00" y2="591.50" stroke="#111" stroke-width="1.1"/>
<line x1="150.30" y1="617.50" x2="165.00" y2="582.00" stroke="#111" stroke-width="1.1"/>
<line x1="150.30" y1="626.50" x2="165.00" y2="574.00" stroke="#111" stroke-width="1.1"/>
<ellipse cx="150.30" cy="594.60" rx="2.7" ry="2.9" fill="#15497f"/>
<rect x="162.35" y="624.40" width="5.3" height="6.4" fill="#15497f"/>
<ellipse cx="150.30" cy="631.00" rx="2.7" ry="2.9" fill="#15497f"/>
<rect x="162.35" y="624.40" width="5.3" height="6.4" fill="#15497f"/>
<ellipse cx="150.30" cy="606.80" rx="2.7" ry="2.9" fill="#c8102e"/>
<rect x="162.35" y="588.30" width="5.3" height="6.4" fill="#c8102e"/>
<ellipse cx="150.30" cy="617.50" rx="2.7" ry="2.9" fill="#c8102e"/>
<rect x="162.35" y="578.80" width="5.3" height="6.4" fill="#c8102e"/>
<ellipse cx="150.30" cy="626.50" rx="2.7" ry="2.9" fill="#c8102e"/>
<rect x="162.35" y="570.80" width="5.3" height="6.4" fill="#c8102e"/>
<rect x="162.35" y="631.50" width="5.3" height="6.4" fill="#15497f"/>
<line x1="189.60" y1="566.70" x2="204.10" y2="552.80" stroke="#111" stroke-width="1.1"/>
<line x1="204.10" y1="552.80" x2="218.70" y2="635.80" stroke="#111" stroke-width="1.1"/>
<line x1="218.70" y1="635.80" x2="233.40" y2="588.40" stroke="#111" stroke-width="1.1"/>
<line x1="189.60" y1="575.20" x2="204.10" y2="567.00" stroke="#111" stroke-width="1.1"/>
<line x1="204.10" y1="567.00" x2="218.70" y2="624.00" stroke="#111" stroke-width="1.1"/>
<line x1="218.70" y1="624.00" x2="233.40" y2="639.80" stroke="#111" stroke-width="1.1"/>
<line x1="189.60" y1="590.40" x2="204.10" y2="558.20" stroke="#111" stroke-width="1.1"/>
<line x1="204.10" y1="558.20" x2="218.70" y2="649.10" stroke="#111" stroke-width="1.1"/>
<line x1="218.70" y1="649.10" x2="233.40" y2="654.60" stroke="#111" stroke-width="1.1"/>
<line x1="189.60" y1="593.40" x2="204.10" y2="567.70" stroke="#111" stroke-width="1.1"/>
<line x1="204.10" y1="567.70" x2="218.70" y2="636.50" stroke="#111" stroke-width="1.1"/>
<line x1="218.70" y1="636.50" x2="233.40" y2="597.50" stroke="#111" stroke-width="1.1"/>
<line x1="189.60" y1="610.60" x2="204.10" y2="590.40" stroke="#111" stroke-width="1.1"/>
<line x1="204.10" y1="590.40" x2="218.70" y2="635.00" stroke="#111" stroke-width="1.1"/>
<line x1="218.70" y1="635.00" x2="233.40" y2="599.00" stroke="#111" stroke-width="1.1"/>
<polygon points="189.60,563.10 186.90,569.10 192.30,569.10" fill="#c8102e"/>
<polygon points="204.10,556.40 201.40,550.40 206.80,550.40" fill="#c8102e"/>
<ellipse cx="218.70" cy="635.80" rx="2.7" ry="2.9" fill="#c8102e"/>
<rect x="230.75" y="585.20" width="5.3" height="6.4" fill="#c8102e"/>
<polygon points="189.60,571.60 186.90,577.60 192.30,577.60" fill="#15497f"/>
<polygon points="204.10,570.60 201.40,564.60 206.80,564.60" fill="#15497f"/>
<ellipse cx="218.70" cy="624.00" rx="2.7" ry="2.9" fill="#15497f"/>
<rect x="230.75" y="636.60" width="5.3" height="6.4" fill="#15497f"/>
<polygon points="189.60,586.80 186.90,592.80 192.30,592.80" fill="#15497f"/>
<polygon points="204.10,561.80 201.40,555.80 206.80,555.80" fill="#15497f"/>
<ellipse cx="218.70" cy="649.10" rx="2.7" ry="2.9" fill="#15497f"/>
<rect x="230.75" y="651.40" width="5.3" height="6.4" fill="#15497f"/>
<polygon points="189.60,589.80 186.90,595.80 192.30,595.80" fill="#c8102e"/>
<polygon points="204.10,571.30 201.40,565.30 206.80,565.30" fill="#c8102e"/>
<ellipse cx="218.70" cy="636.50" rx="2.7" ry="2.9" fill="#c8102e"/>
<rect x="230.75" y="594.30" width="5.3" height="6.4" fill="#c8102e"/>
<polygon points="189.60,607.00 186.90,613.00 192.30,613.00" fill="#c8102e"/>
<polygon points="204.10,594.00 201.40,588.00 206.80,588.00" fill="#c8102e"/>
<ellipse cx="218.70" cy="635.00" rx="2.7" ry="2.9" fill="#c8102e"/>
<rect x="230.75" y="595.80" width="5.3" height="6.4" fill="#c8102e"/>
<line x1="258.00" y1="576.70" x2="272.50" y2="558.70" stroke="#111" stroke-width="1.1"/>
<line x1="272.50" y1="558.70" x2="287.10" y2="646.00" stroke="#111" stroke-width="1.1"/>
<line x1="287.10" y1="646.00" x2="301.80" y2="604.20" stroke="#111" stroke-width="1.1"/>
<line x1="258.00" y1="599.20" x2="272.50" y2="589.50" stroke="#111" stroke-width="1.1"/>
<line x1="272.50" y1="589.50" x2="287.10" y2="658.00" stroke="#111" stroke-width="1.1"/>
<line x1="287.10" y1="658.00" x2="301.80" y2="653.00" stroke="#111" stroke-width="1.1"/>
<line x1="258.00" y1="611.70" x2="272.50" y2="589.50" stroke="#111" stroke-width="1.1"/>
<line x1="272.50" y1="589.50" x2="287.10" y2="649.00" stroke="#111" stroke-width="1.1"/>
<line x1="287.10" y1="649.00" x2="301.80" y2="619.20" stroke="#111" stroke-width="1.1"/>
<line x1="258.00" y1="626.30" x2="272.50" y2="578.70" stroke="#111" stroke-width="1.1"/>
<line x1="272.50" y1="578.70" x2="287.10" y2="656.00" stroke="#111" stroke-width="1.1"/>
<line x1="287.10" y1="656.00" x2="301.80" y2="660.00" stroke="#111" stroke-width="1.1"/>
<line x1="258.00" y1="643.70" x2="272.50" y2="620.00" stroke="#111" stroke-width="1.1"/>
<line x1="272.50" y1="620.00" x2="287.10" y2="652.50" stroke="#111" stroke-width="1.1"/>
<line x1="287.10" y1="652.50" x2="301.80" y2="631.30" stroke="#111" stroke-width="1.1"/>
<polygon points="258.00,573.10 255.30,579.10 260.70,579.10" fill="#c8102e"/>
<polygon points="272.50,562.30 269.80,556.30 275.20,556.30" fill="#c8102e"/>
<ellipse cx="287.10" cy="646.00" rx="2.7" ry="2.9" fill="#c8102e"/>
<rect x="299.15" y="601.00" width="5.3" height="6.4" fill="#c8102e"/>
<polygon points="258.00,595.60 255.30,601.60 260.70,601.60" fill="#15497f"/>
<polygon points="272.50,593.10 269.80,587.10 275.20,587.10" fill="#15497f"/>
<ellipse cx="287.10" cy="658.00" rx="2.7" ry="2.9" fill="#15497f"/>
<rect x="299.15" y="649.80" width="5.3" height="6.4" fill="#15497f"/>
<polygon points="258.00,608.10 255.30,614.10 260.70,614.10" fill="#c8102e"/>
<polygon points="272.50,593.10 269.80,587.10 275.20,587.10" fill="#c8102e"/>
<ellipse cx="287.10" cy="649.00" rx="2.7" ry="2.9" fill="#c8102e"/>
<rect x="299.15" y="616.00" width="5.3" height="6.4" fill="#c8102e"/>
<polygon points="258.00,622.70 255.30,628.70 260.70,628.70" fill="#15497f"/>
<polygon points="272.50,582.30 269.80,576.30 275.20,576.30" fill="#15497f"/>
<ellipse cx="287.10" cy="656.00" rx="2.7" ry="2.9" fill="#15497f"/>
<rect x="299.15" y="656.80" width="5.3" height="6.4" fill="#15497f"/>
<polygon points="258.00,640.10 255.30,646.10 260.70,646.10" fill="#c8102e"/>
<polygon points="272.50,623.60 269.80,617.60 275.20,617.60" fill="#c8102e"/>
<ellipse cx="287.10" cy="652.50" rx="2.7" ry="2.9" fill="#c8102e"/>
<rect x="299.15" y="628.10" width="5.3" height="6.4" fill="#c8102e"/>
<rect x="299.15" y="653.30" width="5.3" height="6.4" fill="#15497f"/>
<polygon points="272.50,590.60 269.80,584.60 275.20,584.60" fill="#c8102e"/>
<line x1="326.40" y1="595.00" x2="340.90" y2="577.00" stroke="#111" stroke-width="1.1"/>
<line x1="340.90" y1="577.00" x2="355.50" y2="650.00" stroke="#111" stroke-width="1.1"/>
<line x1="355.50" y1="650.00" x2="370.20" y2="618.70" stroke="#111" stroke-width="1.1"/>
<line x1="326.40" y1="654.20" x2="340.90" y2="606.20" stroke="#111" stroke-width="1.1"/>
<line x1="340.90" y1="606.20" x2="355.50" y2="661.00" stroke="#111" stroke-width="1.1"/>
<line x1="355.50" y1="661.00" x2="370.20" y2="660.00" stroke="#111" stroke-width="1.1"/>
<line x1="326.40" y1="641.20" x2="340.90" y2="618.70" stroke="#111" stroke-width="1.1"/>
<line x1="340.90" y1="618.70" x2="355.50" y2="655.00" stroke="#111" stroke-width="1.1"/>
<line x1="355.50" y1="655.00" x2="370.20" y2="639.80" stroke="#111" stroke-width="1.1"/>
<line x1="326.40" y1="652.00" x2="340.90" y2="636.00" stroke="#111" stroke-width="1.1"/>
<line x1="340.90" y1="636.00" x2="355.50" y2="662.00" stroke="#111" stroke-width="1.1"/>
<line x1="355.50" y1="662.00" x2="370.20" y2="662.50" stroke="#111" stroke-width="1.1"/>
<line x1="326.40" y1="659.00" x2="340.90" y2="646.50" stroke="#111" stroke-width="1.1"/>
<line x1="340.90" y1="646.50" x2="355.50" y2="660.00" stroke="#111" stroke-width="1.1"/>
<line x1="355.50" y1="660.00" x2="370.20" y2="645.60" stroke="#111" stroke-width="1.1"/>
<polygon points="326.40,591.40 323.70,597.40 329.10,597.40" fill="#c8102e"/>
<polygon points="340.90,580.60 338.20,574.60 343.60,574.60" fill="#c8102e"/>
<ellipse cx="355.50" cy="650.00" rx="2.7" ry="2.9" fill="#c8102e"/>
<rect x="367.55" y="615.50" width="5.3" height="6.4" fill="#c8102e"/>
<polygon points="326.40,650.60 323.70,656.60 329.10,656.60" fill="#15497f"/>
<polygon points="340.90,609.80 338.20,603.80 343.60,603.80" fill="#15497f"/>
<ellipse cx="355.50" cy="661.00" rx="2.7" ry="2.9" fill="#15497f"/>
<rect x="367.55" y="656.80" width="5.3" height="6.4" fill="#15497f"/>
<polygon points="326.40,637.60 323.70,643.60 329.10,643.60" fill="#c8102e"/>
<polygon points="340.90,622.30 338.20,616.30 343.60,616.30" fill="#c8102e"/>
<ellipse cx="355.50" cy="655.00" rx="2.7" ry="2.9" fill="#c8102e"/>
<rect x="367.55" y="636.60" width="5.3" height="6.4" fill="#c8102e"/>
<polygon points="326.40,648.40 323.70,654.40 329.10,654.40" fill="#15497f"/>
<polygon points="340.90,639.60 338.20,633.60 343.60,633.60" fill="#15497f"/>
<ellipse cx="355.50" cy="662.00" rx="2.7" ry="2.9" fill="#15497f"/>
<rect x="367.55" y="659.30" width="5.3" height="6.4" fill="#15497f"/>
<polygon points="326.40,655.40 323.70,661.40 329.10,661.40" fill="#c8102e"/>
<polygon points="340.90,650.10 338.20,644.10 343.60,644.10" fill="#c8102e"/>
<ellipse cx="355.50" cy="660.00" rx="2.7" ry="2.9" fill="#c8102e"/>
<rect x="367.55" y="642.40" width="5.3" height="6.4" fill="#c8102e"/>
<line x1="394.80" y1="630.40" x2="409.30" y2="607.50" stroke="#111" stroke-width="1.1"/>
<line x1="409.30" y1="607.50" x2="423.90" y2="651.50" stroke="#111" stroke-width="1.1"/>
<line x1="423.90" y1="651.50" x2="438.60" y2="644.40" stroke="#111" stroke-width="1.1"/>
<line x1="394.80" y1="664.00" x2="409.30" y2="632.90" stroke="#111" stroke-width="1.1"/>
<line x1="409.30" y1="632.90" x2="423.90" y2="662.00" stroke="#111" stroke-width="1.1"/>
<line x1="423.90" y1="662.00" x2="438.60" y2="664.20" stroke="#111" stroke-width="1.1"/>
<line x1="394.80" y1="650.60" x2="409.30" y2="637.70" stroke="#111" stroke-width="1.1"/>
<line x1="409.30" y1="637.70" x2="423.90" y2="662.30" stroke="#111" stroke-width="1.1"/>
<line x1="423.90" y1="662.30" x2="438.60" y2="647.70" stroke="#111" stroke-width="1.1"/>
<line x1="394.80" y1="661.70" x2="409.30" y2="641.20" stroke="#111" stroke-width="1.1"/>
<line x1="409.30" y1="641.20" x2="423.90" y2="662.30" stroke="#111" stroke-width="1.1"/>
<line x1="423.90" y1="662.30" x2="438.60" y2="652.10" stroke="#111" stroke-width="1.1"/>
<line x1="394.80" y1="662.50" x2="409.30" y2="651.50" stroke="#111" stroke-width="1.1"/>
<line x1="409.30" y1="651.50" x2="423.90" y2="660.00" stroke="#111" stroke-width="1.1"/>
<line x1="423.90" y1="660.00" x2="438.60" y2="651.00" stroke="#111" stroke-width="1.1"/>
<polygon points="394.80,626.80 392.10,632.80 397.50,632.80" fill="#c8102e"/>
<polygon points="409.30,611.10 406.60,605.10 412.00,605.10" fill="#c8102e"/>
<ellipse cx="423.90" cy="651.50" rx="2.7" ry="2.9" fill="#c8102e"/>
<rect x="435.95" y="641.20" width="5.3" height="6.4" fill="#c8102e"/>
<polygon points="394.80,660.40 392.10,666.40 397.50,666.40" fill="#15497f"/>
<polygon points="409.30,636.50 406.60,630.50 412.00,630.50" fill="#15497f"/>
<ellipse cx="423.90" cy="662.00" rx="2.7" ry="2.9" fill="#15497f"/>
<rect x="435.95" y="661.00" width="5.3" height="6.4" fill="#15497f"/>
<polygon points="394.80,647.00 392.10,653.00 397.50,653.00" fill="#c8102e"/>
<polygon points="409.30,641.30 406.60,635.30 412.00,635.30" fill="#c8102e"/>
<ellipse cx="423.90" cy="662.30" rx="2.7" ry="2.9" fill="#c8102e"/>
<rect x="435.95" y="644.50" width="5.3" height="6.4" fill="#c8102e"/>
<polygon points="394.80,658.10 392.10,664.10 397.50,664.10" fill="#c8102e"/>
<polygon points="409.30,644.80 406.60,638.80 412.00,638.80" fill="#c8102e"/>
<ellipse cx="423.90" cy="662.30" rx="2.7" ry="2.9" fill="#c8102e"/>
<rect x="435.95" y="648.90" width="5.3" height="6.4" fill="#c8102e"/>
<polygon points="394.80,658.90 392.10,664.90 397.50,664.90" fill="#c8102e"/>
<polygon points="409.30,655.10 406.60,649.10 412.00,649.10" fill="#c8102e"/>
<ellipse cx="423.90" cy="660.00" rx="2.7" ry="2.9" fill="#c8102e"/>
<rect x="435.95" y="647.80" width="5.3" height="6.4" fill="#c8102e"/>
<text x="270.80" y="503.00" font-size="9" text-anchor="start" fill="#333333" textLength="31.5" lengthAdjust="spacingAndGlyphs">1q gain</text>
<text x="315.60" y="503.00" font-size="9" text-anchor="start" fill="#333333" textLength="52.5" lengthAdjust="spacingAndGlyphs">non-1q gain</text>
<line x1="279.60" y1="513.30" x2="293.80" y2="513.30" stroke="#222" stroke-width="1.2"/>
<polygon points="286.60,509.70 283.90,515.70 289.30,515.70" fill="#15497f"/>
<line x1="334.70" y1="513.30" x2="348.50" y2="513.30" stroke="#222" stroke-width="1.2"/>
<polygon points="341.60,509.70 338.90,515.70 344.30,515.70" fill="#c8102e"/>
<text x="361.20" y="516.30" font-size="8.6" text-anchor="start" fill="#333333" textLength="58.80000000000001" lengthAdjust="spacingAndGlyphs">Pre (Ven alone)</text>
<line x1="279.60" y1="527.30" x2="293.80" y2="527.30" stroke="#222" stroke-width="1.2"/>
<polygon points="286.60,530.90 283.90,524.90 289.30,524.90" fill="#15497f"/>
<line x1="334.70" y1="527.30" x2="348.50" y2="527.30" stroke="#222" stroke-width="1.2"/>
<polygon points="341.60,530.90 338.90,524.90 344.30,524.90" fill="#c8102e"/>
<text x="361.20" y="530.30" font-size="8.6" text-anchor="start" fill="#333333" textLength="62.60000000000002" lengthAdjust="spacingAndGlyphs">Post (Ven alone)</text>
<line x1="279.60" y1="541.40" x2="293.80" y2="541.40" stroke="#222" stroke-width="1.2"/>
<ellipse cx="286.60" cy="541.40" rx="2.7" ry="2.9" fill="#15497f"/>
<line x1="334.70" y1="541.40" x2="348.50" y2="541.40" stroke="#222" stroke-width="1.2"/>
<ellipse cx="341.60" cy="541.40" rx="2.7" ry="2.9" fill="#c8102e"/>
<text x="361.20" y="544.40" font-size="8.6" text-anchor="start" fill="#333333" textLength="76.90000000000003" lengthAdjust="spacingAndGlyphs">Pre (Ven + S63485)</text>
<line x1="279.60" y1="554.80" x2="293.80" y2="554.80" stroke="#222" stroke-width="1.2"/>
<rect x="283.95" y="551.60" width="5.3" height="6.4" fill="#15497f"/>
<line x1="334.70" y1="554.80" x2="348.50" y2="554.80" stroke="#222" stroke-width="1.2"/>
<rect x="338.95" y="551.60" width="5.3" height="6.4" fill="#c8102e"/>
<text x="361.20" y="557.80" font-size="8.6" text-anchor="start" fill="#333333" textLength="80.69999999999999" lengthAdjust="spacingAndGlyphs">Post (Ven + S63485)</text>
<rect x="0.5" y="0.5" width="519" height="707" fill="none" stroke="#444" stroke-width="1"/>
</svg>
</body></html>
